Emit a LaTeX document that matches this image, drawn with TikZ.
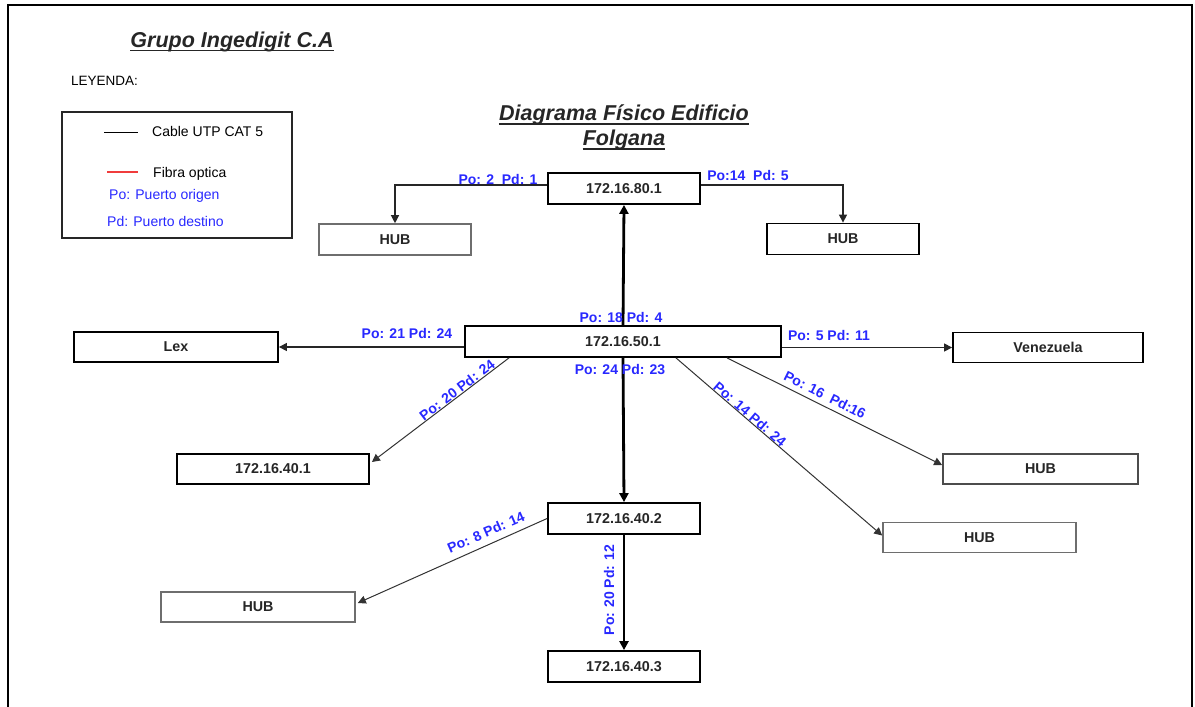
\documentclass[tikz,border=0pt]{standalone}
\usepackage{fontspec}
\setmainfont{Liberation Sans}
\usetikzlibrary{arrows.meta,calc}
\definecolor{portblue}{RGB}{40,40,255}
\definecolor{fibrered}{RGB}{240,60,60}
\definecolor{hubgray}{RGB}{110,110,110}

\begin{document}
\begin{tikzpicture}[x=1pt,y=-1pt,
  box/.style={draw=black,line width=1.8pt,fill=white,inner sep=0pt,
    minimum height=31pt,font=\fontsize{14.3}{16}\selectfont\bfseries,text=black!85},
  graybox/.style={box,draw=hubgray,line width=1.6pt},
  port/.style={inner sep=0pt,text=portblue,font=\fontsize{14}{16}\selectfont\bfseries},
  legendtext/.style={inner sep=0pt,anchor=base west,font=\fontsize{14}{16}\selectfont},
  heading/.style={inner sep=0pt,anchor=base,font=\fontsize{21.5}{24}\selectfont\bfseries\itshape,text=black!85},
  link/.style={draw=black!85,line width=1.2pt,-{Triangle[length=8pt,width=8pt]}},
  diaglink/.style={draw=black!80,line width=1pt,-{Triangle[length=8pt,width=8pt]}},
  trunk/.style={draw=black,line width=2.8pt,-{Triangle[length=9pt,width=9pt]}}
]
\useasboundingbox (0,0) rectangle (1195,707);
\fill[white] (0,0) rectangle (1195,707);

% page frame
\draw[line width=2pt] (7.5,712) -- (7.5,5) -- (1192,5) -- (1192,712);

% headings
\node[heading] (grupo) at (232,47) {Grupo Ingedigit C.A};
\draw[line width=1.3pt,black!85] ([yshift=-3.5pt]grupo.base west) -- ([yshift=-3.5pt]grupo.base east);
\node[heading] (tit1) at (624,120) {Diagrama Físico Edificio};
\draw[line width=1.3pt,black!85] ([yshift=-4pt]tit1.base west) -- ([yshift=-4pt]tit1.base east);
\node[heading] (tit2) at (624,145) {Folgana};
\draw[line width=1.3pt,black!85] ([yshift=-4pt]tit2.base west) -- ([yshift=-4pt]tit2.base east);

% legend
\node[legendtext,font=\fontsize{13.5}{15}\selectfont] (leyenda) at (71,85) {LEYENDA:};
\node[draw=black!85,line width=1.3pt,minimum width=230pt,minimum height=126pt,inner sep=0pt] (legend) at (177,175) {};
\node[legendtext] (utp) at (152,136) {Cable UTP CAT 5};
\draw[line width=1.2pt] (104,132.5) -- (138,132.5);
\node[legendtext] (fibra) at (153,177) {Fibra optica};
\draw[line width=1.2pt,fibrered] (107,172) -- (138,172);
\node[legendtext,text=portblue] (po) at (109,199) {Po: Puerto origen};
\node[legendtext,text=portblue] (pd) at (107,226) {Pd: Puerto destino};

% equipment
\node[box,minimum width=152pt] (n80) at (624,188.5) {172.16.80.1};
\node[graybox,minimum width=152pt] (hubTL) at (395,239.5) {HUB};
\node[box,minimum width=152pt] (hubTR) at (843,239) {HUB};
\node[box,minimum width=316pt] (n50) at (623,341.5) {172.16.50.1};
\node[box,minimum width=204pt,minimum height=30pt] (lex) at (176,347) {Lex};
\node[box,minimum width=190pt,minimum height=30pt] (ven) at (1048,347.5) {Venezuela};
\node[box,minimum width=192pt,minimum height=30pt] (n401) at (273,469) {172.16.40.1};
\node[box,minimum width=152pt] (n402) at (624,518.5) {172.16.40.2};
\node[box,minimum width=152pt] (n403) at (624,666.5) {172.16.40.3};
\node[graybox,minimum width=194pt,minimum height=30pt] (hubLL) at (258,607) {HUB};
\node[box,draw=black!70,minimum width=195pt,minimum height=30pt] (hubR1) at (1040.5,469) {HUB};
\node[graybox,minimum width=193pt,minimum height=30pt] (hubR2) at (979.5,537.5) {HUB};

% connections
\draw[link] ([yshift=3.5pt]n80.west) -| (hubTL.north);
\draw[link] ([yshift=3.5pt]n80.east) -| (hubTR.north);
\draw[trunk] (n50.north) -- (n80.south);
\draw[link] (lex.east -| n50.west) -- (lex.east);
\draw[link] (ven.west -| n50.east) -- (ven.west);
\draw[diaglink] ([xshift=-114pt]n50.south) -- ([yshift=7pt,xshift=2pt]n401.east);
\draw[diaglink] ([xshift=104pt]n50.south) -- ([yshift=4pt]hubR1.west);
\draw[diaglink] ([xshift=53pt]n50.south) -- ([yshift=2pt]hubR2.west);
\draw[trunk] (n50.south) -- (n402.north);
\draw[diaglink] (n402.west) -- ([yshift=4pt,xshift=2pt]hubLL.east);
\draw[trunk] (n402.south) -- (n403.north);

% port labels
\node[port] (l1) at (498,179) {Po: 2\ \ Pd: 1};
\node[port] (l2) at (748,175) {Po:14\ \ Pd: 5};
\node[port] (l3) at (621,317) {Po: 18 Pd: 4};
\node[port] (l4) at (620,370) {Po: 24 Pd: 23};
\node[port] (l5) at (407,333) {Po: 21 Pd: 24};
\node[port] (l6) at (829,335) {Po: 5 Pd: 11};
\node[port,rotate=37.5] (l7) at (457,390) {Po: 20 Pd: 24};
\node[port,rotate=-26.6] (l8) at (825,395) {Po: 16\ \ Pd:16};
\node[port,rotate=-40.7] (l9) at (750,414) {Po: 14 Pd: 24};
\node[port,rotate=23.7] (l10) at (486,532) {Po: 8 Pd: 14};
\node[port,rotate=90] (l11) at (609,590) {Po: 20 Pd: 12};
\end{tikzpicture}
\end{document}
